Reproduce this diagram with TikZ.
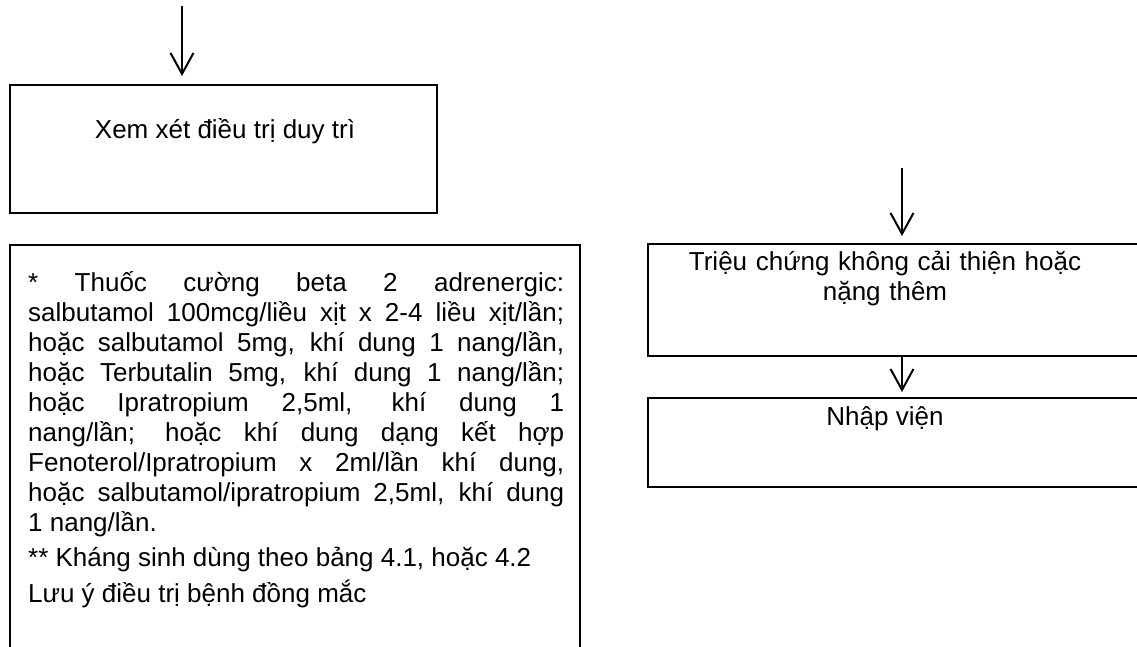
\documentclass[tikz,border=0pt]{standalone}
\usepackage{fontspec}
\setmainfont{Liberation Sans}
\usetikzlibrary{arrows.meta}
\newcommand\flowfont{\fontsize{26}{30}\selectfont}
\begin{document}
\begin{tikzpicture}[x=1pt,y=-1pt,
  box/.style={draw,line width=2pt,rectangle,inner sep=0pt},
  label/.style={inner sep=0pt,font=\flowfont},
  flow/.style={line width=2pt,-{Straight Barb[length=21pt,width=23pt,line width=2pt]}},
]
\useasboundingbox (0,0) rectangle (1137,647);
\fill[white] (0,0) rectangle (1137,647);
\clip (0,0) rectangle (1137,647);

% left column
\node[box,minimum width=427pt,minimum height=128pt] (keep) at (223.5,149) {};
\node[box,minimum width=570.5pt,minimum height=455pt] (notesbox) at (294.75,472.5) {};
\coordinate (in1) at (182,6);
\draw[flow,shorten >=8pt] (in1) -- (in1 |- keep.north);

\node[label,anchor=base] (keeptxt) at (225,139) {Xem xét điều trị duy trì};
\node[label,anchor=base west,text width=536pt,align=justify] (notes) at (28,291)
{\flowfont\setlength{\parskip}{5.5pt}\tolerance=10000 \hyphenpenalty=10000
* Thuốc cường beta 2 adrenergic:\linebreak
salbutamol 100mcg/liều xịt x 2-4 liều xịt/lần;\linebreak
hoặc salbutamol 5mg, khí dung 1 nang/lần,\linebreak
hoặc Terbutalin 5mg, khí dung 1 nang/lần;\linebreak
hoặc Ipratropium 2,5ml, khí dung 1\linebreak
nang/lần; hoặc khí dung dạng kết hợp\linebreak
Fenoterol/Ipratropium x 2ml/lần khí dung,\linebreak
hoặc salbutamol/ipratropium 2,5ml, khí dung\linebreak
1 nang/lần.\par
** Kháng sinh dùng theo bảng 4.1, hoặc 4.2\par
Lưu ý điều trị bệnh đồng mắc\par};

% right column
\node[box,minimum width=508pt,minimum height=112pt] (worse) at (902,300) {};
\node[box,minimum width=508pt,minimum height=89pt] (admit) at (902,442.5) {};
\coordinate (in2) at (902,168);
\draw[flow,shorten >=7pt] (in2) -- (worse.north);
\draw[flow,shorten >=5pt] (worse.south) -- (admit.north);

\node[label,anchor=base,text width=460pt,align=center] (worsetxt) at (885,270)
{Triệu chứng không cải thiện hoặc\\nặng thêm};
\node[label,anchor=base] (admittxt) at (885,425) {Nhập viện};
\end{tikzpicture}
\end{document}
